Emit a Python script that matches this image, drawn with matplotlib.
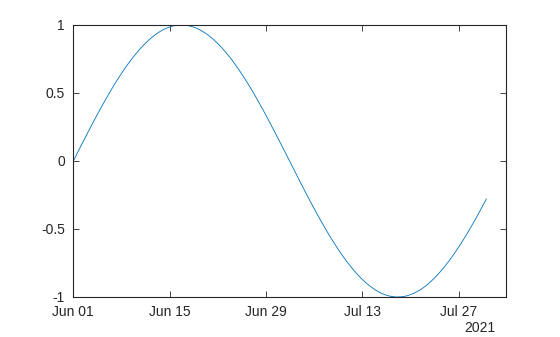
import matplotlib
matplotlib.use("Agg")
import matplotlib.pyplot as plt
import matplotlib.dates as mdates
import datetime as dt

start_date = "2021-06-01"
step_hours = 12
values = [0.000, 0.050, 0.100, 0.149, 0.199, 0.247, 0.296, 0.343, 0.389, 0.435,
          0.479, 0.523, 0.565, 0.605, 0.644, 0.682, 0.717, 0.751, 0.783, 0.813,
          0.841, 0.867, 0.891, 0.913, 0.932, 0.949, 0.964, 0.976, 0.985, 0.993,
          0.997, 1.000, 1.000, 0.997, 0.992, 0.984, 0.974, 0.961, 0.946, 0.929,
          0.909, 0.887, 0.863, 0.837, 0.808, 0.778, 0.746, 0.711, 0.675, 0.638,
          0.598, 0.558, 0.516, 0.472, 0.427, 0.382, 0.335, 0.287, 0.239, 0.190,
          0.141, 0.091, 0.042, -0.008, -0.058, -0.108, -0.158, -0.207, -0.256, -0.304,
          -0.351, -0.397, -0.443, -0.487, -0.530, -0.572, -0.612, -0.651, -0.688, -0.724,
          -0.757, -0.788, -0.818, -0.846, -0.872, -0.895, -0.916, -0.935, -0.952, -0.966,
          -0.978, -0.987, -0.994, -0.998, -1.000, -0.999, -0.996, -0.991, -0.982, -0.972,
          -0.959, -0.944, -0.926, -0.906, -0.883, -0.859, -0.832, -0.803, -0.773, -0.740,
          -0.706, -0.669, -0.631, -0.592, -0.551, -0.509, -0.465, -0.421, -0.374, -0.327,
          -0.279]
x_ticks = ["2021-06-01", "2021-06-15", "2021-06-29", "2021-07-13", "2021-07-27"]
y_ticks = [-1, -0.5, 0, 0.5, 1]
y_tick_labels = ["-1", "-0.5", "0", "0.5", "1"]
year_label = "2021"

plt.rcParams['font.family'] = ['Liberation Sans', 'DejaVu Sans']
col = "#262626"

s = dt.datetime.fromisoformat(start_date)
dates = [s + dt.timedelta(hours=step_hours * i) for i in range(len(values))]

fig = plt.figure(figsize=(5.6, 3.37), dpi=100)
W, H = 560, 337
ax = fig.add_axes([73.3 / W, 1 - 297 / H, (506.3 - 73.3) / W, (297 - 25) / H])
ax.plot(dates, values, color="#0072BD", lw=0.6)
ax.set_xlim(s, s + dt.timedelta(days=62.9))
ax.set_ylim(-1, 1)
ax.set_xticks([dt.datetime.fromisoformat(t) for t in x_ticks])
ax.xaxis.set_major_formatter(mdates.DateFormatter("%b %d"))
ax.set_yticks(y_ticks)
ax.set_yticklabels(y_tick_labels)
for sp in ax.spines.values():
    sp.set_color(col)
    sp.set_linewidth(0.8)
ax.tick_params(direction="in", top=True, right=True, length=4, width=0.6,
               colors=col, labelsize=10, labelcolor=col)
ax.tick_params(axis="x", pad=6)
ax.tick_params(axis="y", pad=6)
fig.text(495 / W, 1 - 328 / H, year_label, ha="right", va="center",
         fontsize=10, color=col)
fig.savefig("out.png", dpi=100)
